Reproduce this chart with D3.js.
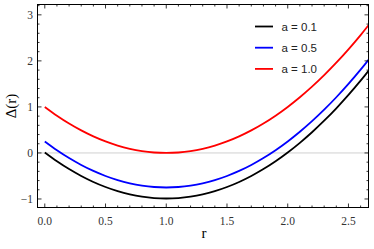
<!DOCTYPE html>
<html><head><meta charset="utf-8">
<script src="https://cdn.jsdelivr.net/npm/d3@7"></script>
<style>body{margin:0;background:#fff}svg{display:block}.sf{font-family:"Liberation Serif","Tinos","Times New Roman","DejaVu Serif",serif}.ss{font-family:"Liberation Sans",Arimo,Arial,sans-serif}</style>
</head><body>
<script>
const rValues = [0,0.1,0.2,0.3,0.4,0.5,0.6,0.7,0.8,0.9,1.0,1.1,1.2,1.3,1.4,1.5,1.6,1.7,1.8,1.9,2.0,2.1,2.2,2.3,2.4,2.5,2.6,2.7];
const deltaA01 = [0.01,-0.18,-0.35,-0.50,-0.63,-0.74,-0.83,-0.90,-0.95,-0.98,-0.99,-0.98,-0.95,-0.90,-0.83,-0.74,-0.63,-0.50,-0.35,-0.18,0.01,0.22,0.45,0.70,0.97,1.26,1.57,1.90];
const deltaA05 = [0.25,0.06,-0.11,-0.26,-0.39,-0.50,-0.59,-0.66,-0.71,-0.74,-0.75,-0.74,-0.71,-0.66,-0.59,-0.50,-0.39,-0.26,-0.11,0.06,0.25,0.46,0.69,0.94,1.21,1.50,1.81,2.14];
const deltaA10 = [1.00,0.81,0.64,0.49,0.36,0.25,0.16,0.09,0.04,0.01,0.00,0.01,0.04,0.09,0.16,0.25,0.36,0.49,0.64,0.81,1.00,1.21,1.44,1.69,1.96,2.25,2.56,2.89];
const seriesNames = ["a = 0.1","a = 0.5","a = 1.0"];
const seriesColors = ["#000000","#0000ff","#ff0000"];
const xTicks = [0,0.5,1.0,1.5,2.0,2.5];
const yTicks = [-1,0,1,2,3];

const W=374,H=249;
const L=37.5,R=368.5,T=4.5,B=207.5;
const svg=d3.select("body").append("svg").attr("width",W).attr("height",H);
const x=d3.scaleLinear().domain([-0.06,2.665]).range([L,R]);
const y=d3.scaleLinear().domain([-1.185,3.225]).range([B,T]);

svg.append("defs").append("clipPath").attr("id","c").append("rect")
  .attr("x",L).attr("y",T).attr("width",R-L).attr("height",B-T);

svg.append("line").attr("x1",L).attr("x2",R).attr("y1",y(0)).attr("y2",y(0))
  .attr("stroke","#d0d0d0").attr("stroke-width",1);

const series=[deltaA01,deltaA05,deltaA10];
const line=d3.line().x((d,i)=>x(rValues[i])).y(d=>y(d)).curve(d3.curveCatmullRom);
const g=svg.append("g").attr("clip-path","url(#c)");
series.forEach((s,k)=>{
  g.append("path").datum(s).attr("d",line).attr("fill","none")
   .attr("stroke",seriesColors[k]).attr("stroke-width",1.8);
});

svg.append("rect").attr("x",L).attr("y",T).attr("width",R-L).attr("height",B-T)
  .attr("fill","none").attr("stroke","#000").attr("stroke-width",1);

const minorX=d3.range(0,27).map(i=>i*0.1).filter(v=>x(v)<R-0.5);
const minorY=d3.range(-5,17).map(i=>i*0.2);
const tg=svg.append("g").attr("stroke","#000").attr("stroke-width",0.8);
minorX.forEach(v=>{
  const major=xTicks.some(t=>Math.abs(t-v)<1e-6);
  const len=major?4:2;
  tg.append("line").attr("x1",x(v)).attr("x2",x(v)).attr("y1",B).attr("y2",B-len);
  tg.append("line").attr("x1",x(v)).attr("x2",x(v)).attr("y1",T).attr("y2",T+len);
});
minorY.filter(v=>y(v)>T&&y(v)<B).forEach(v=>{
  const major=yTicks.some(t=>Math.abs(t-v)<1e-6);
  const len=major?4:2;
  tg.append("line").attr("y1",y(v)).attr("y2",y(v)).attr("x1",L).attr("x2",L+len);
  tg.append("line").attr("y1",y(v)).attr("y2",y(v)).attr("x1",R).attr("x2",R-len);
});

svg.append("g").selectAll("text").data(xTicks).join("text").attr("class","sf")
  .attr("x",d=>x(d)).attr("y",225).attr("text-anchor","middle")
  .attr("font-size",11.5).attr("fill","#333")
  .text(d=>d3.format(".1f")(d));
svg.append("g").selectAll("text").data(yTicks).join("text").attr("class","sf")
  .attr("x",33).attr("y",d=>y(d)+4).attr("text-anchor","end")
  .attr("font-size",11.5).attr("fill","#333")
  .text(d=>d<0?"\u2212"+Math.abs(d):d);

svg.append("text").attr("class","sf").attr("x",204).attr("y",238).attr("text-anchor","middle")
  .attr("font-size",15).text("r");
svg.append("text").attr("class","sf").attr("transform","translate(16,106) rotate(-90)").attr("text-anchor","middle")
  .attr("font-size",15).text("\u0394(r)");

const lg=svg.append("g");
seriesNames.forEach((n,k)=>{
  const yy=26.5+k*21.2;
  lg.append("line").attr("x1",255).attr("x2",273).attr("y1",yy).attr("y2",yy)
    .attr("stroke",seriesColors[k]).attr("stroke-width",1.8);
  lg.append("text").attr("class","ss").attr("x",281.5).attr("y",yy+4)
    .attr("font-size",11.5).attr("fill","#222").text(n);
});
</script>
</body></html>
